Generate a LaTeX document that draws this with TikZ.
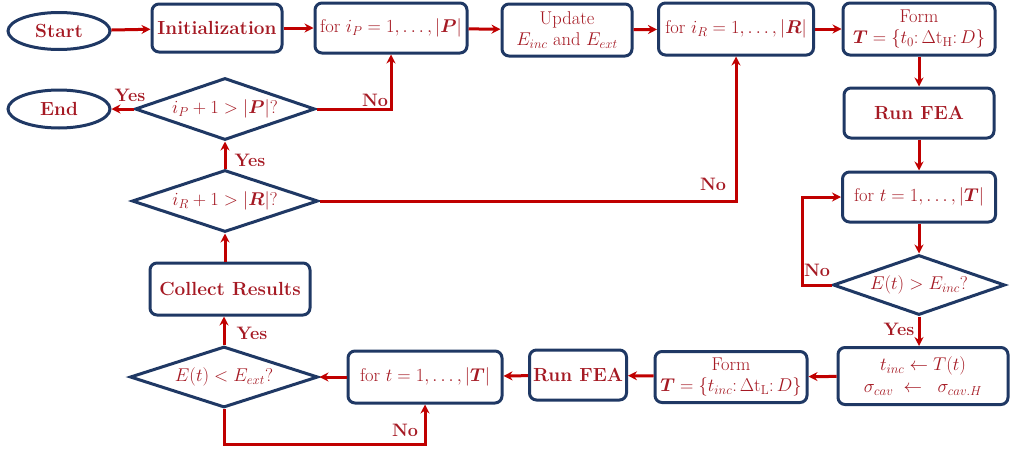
\RequirePackage{fix-cm}
\documentclass[tikz,border=0pt]{standalone}
\usepackage{amsmath,bm}
\usetikzlibrary{shapes.geometric,arrows.meta,calc}
\definecolor{navy}{RGB}{31,56,100}
\definecolor{flow}{RGB}{192,0,0}
\definecolor{ink}{RGB}{165,25,35}
\tikzset{
  box/.style={draw=navy, line width=3pt, rounded corners=7pt, fill=white,
    text=ink, align=center, inner sep=1pt},
  bold/.style={font=\fontsize{19}{22}\selectfont\bfseries},
  term/.style={draw=navy, line width=3pt, ellipse, fill=white, text=ink,
    bold, inner sep=0pt},
  decision/.style={draw=navy, line width=3pt, diamond, aspect=3, fill=white,
    text=ink, inner sep=0pt},
  arr/.style={draw=flow, line width=3pt, -{Stealth[length=9pt,width=9pt]}},
  tag/.style={text=ink, font=\fontsize{18}{21}\selectfont\bfseries, inner sep=1pt},
}
\begin{document}
\begin{tikzpicture}[x=1pt,y=-1pt,font=\fontsize{18.5}{20.5}\selectfont]
\useasboundingbox (0,0) rectangle (1011,453);

% top row
\node[term, minimum width=102pt, minimum height=37pt] (start) at (59,31) {Start};
\node[box, bold, minimum width=130pt, minimum height=48pt] (init) at (217,28) {Initialization};
\node[box, minimum width=152pt, minimum height=50pt] (forP) at (391,28) {for $i_P=1,\ldots,|\bm{P}|$};
\node[box, minimum width=130pt, minimum height=52pt] (upd) at (567,30) {Update\\$E_{inc}$ and $E_{ext}$};
\node[box, minimum width=155pt, minimum height=52pt] (forR) at (736,29) {for $i_R=1,\ldots,|\bm{R}|$};
\node[box, minimum width=152pt, minimum height=52pt] (formH) at (919,29) {Form\\$\bm{T}=\{t_0{:}\,\Delta\mathrm{t}_{\mathrm{H}}{:}\,D\}$};

% right column
\node[box, bold, minimum width=150pt, minimum height=50pt] (feaR) at (919,113) {Run FEA};
\node[box, minimum width=153pt, minimum height=50pt] (forT1) at (919,197) {for $t=1,\ldots,|\bm{T}|$};
\node[decision, minimum width=172pt, minimum height=60pt] (dinc) at (919,285) {$E(t)>E_{inc}$?};
\node[box, minimum width=170pt, minimum height=57pt] (tinc) at (923,376) {$t_{inc}\leftarrow T(t)$\\[1pt]$\sigma_{cav}\;\leftarrow\;\;\sigma_{cav.H}$};

% bottom row
\node[box, minimum width=152pt, minimum height=51pt] (formL) at (731,377) {Form\\$\bm{T}=\{t_{inc}{:}\,\Delta\mathrm{t}_{\mathrm{L}}{:}\,D\}$};
\node[box, bold, minimum width=97pt, minimum height=50pt] (feaL) at (578,375) {Run FEA};
\node[box, minimum width=154pt, minimum height=52pt] (forT2) at (425,377) {for $t=1,\ldots,|\bm{T}|$};
\node[decision, minimum width=188pt, minimum height=61pt] (dext) at (224,377) {$E(t)<E_{ext}$?};

% left column
\node[box, bold, minimum width=160pt, minimum height=52pt] (coll) at (230,289) {Collect Results};
\node[decision, minimum width=186pt, minimum height=62pt] (dR) at (225,201) {$i_R+1>|\bm{R}|$?};
\node[decision, minimum width=180pt, minimum height=62pt] (dP) at (225,109) {$i_P+1>|\bm{P}|$?};
\node[term, minimum width=102pt, minimum height=38pt] (end) at (59,109) {End};

% main flow
\draw[arr] (start) -- (init);
\draw[arr] (init) -- (forP);
\draw[arr] (forP) -- (upd);
\draw[arr] (upd) -- (forR);
\draw[arr] (forR) -- (formH);
\draw[arr] (formH) -- (feaR);
\draw[arr] (feaR) -- (forT1);
\draw[arr] (forT1) -- (dinc);
\draw[arr] (dinc.south) -- (dinc.south |- tinc.north);
\draw[arr] (tinc) -- (formL);
\draw[arr] (formL) -- (feaL);
\draw[arr] (feaL) -- (forT2);
\draw[arr] (forT2) -- (dext.east);
\draw[arr] (dext.north) -- (coll.south -| dext.north);
\draw[arr] (coll.north -| dR.south) -- (dR.south);
\draw[arr] (dR.north) -- (dP.south);
\draw[arr] (dP.west) -- (end);

% loops back
\draw[arr] (dinc.west) -- ++(-29,0) |- (forT1.west);
\draw[arr] (dext.south) -- ++(0,35) -| (forT2.south);
\draw[arr] (dR.east) -| (forR.south);
\draw[arr] (dP.east) -| (forP.south);

% branch labels
\node[tag] at (817,270) {No};
\node[tag] at (899,329) {Yes};
\node[tag] at (405,430) {No};
\node[tag] at (252,333) {Yes};
\node[tag] at (250,160) {Yes};
\node[tag] at (713,184) {No};
\node[tag] at (375,100) {No};
\node[tag] at (130,95) {Yes};
\end{tikzpicture}
\end{document}
